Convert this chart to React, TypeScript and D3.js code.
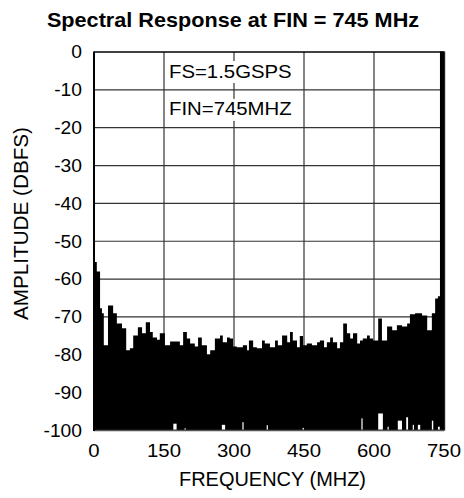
import React from "react";
import * as d3 from "d3";

// ---- data ----
const xTicks = [0, 150, 300, 450, 600, 750];
const yTicks = [0, -10, -20, -30, -40, -50, -60, -70, -80, -90, -100];
const legendLines = ["FS=1.5GSPS", "FIN=745MHZ"];

// noise-floor envelope: [start frequency MHz, peak dBFS] (step after)
const noiseEnvelope: [number, number][] = [
  [0, -55.5], [6, -58], [13, -67.7], [17, -69], [21, -77.5], [30, -67], [41, -69], [49, -71.7],
  [60, -73], [69, -78.8], [77, -78.3], [84, -74.9], [94, -72.7], [103, -74.3], [111, -71.4],
  [120, -74], [126, -75.4], [135, -76], [141, -74.3], [152, -77.5], [163, -76.5], [184, -77.5],
  [191, -74], [199, -75.7], [206, -77], [216, -77.8], [223, -75.4], [231, -77.5], [242, -80],
  [249, -78.8], [259, -75.7], [270, -74.9], [276, -76.7], [285, -75.4], [291, -75.7], [298, -77.8],
  [306, -78], [319, -77.5], [328, -78.8], [332, -76.2], [341, -78], [349, -78.3], [360, -76.2],
  [366, -77], [377, -78], [388, -76.2], [394, -77.5], [403, -74.9], [414, -76.7], [420, -74],
  [426, -76.2], [435, -78], [441, -75], [448, -77.5], [456, -77], [467, -77.5], [478, -76.7],
  [484, -76.2], [493, -78], [499, -76.7], [506, -75.4], [512, -76.7], [521, -78.3], [527, -76.7],
  [534, -71.7], [542, -74.3], [549, -75.7], [555, -74.3], [564, -77], [570, -76.2], [576, -75.7],
  [585, -74.9], [591, -75.7], [598, -76.2], [609, -70.4], [617, -76.2], [628, -72.5], [639, -73.5],
  [649, -72.2], [660, -72.5], [671, -71.7], [677, -69.3], [688, -69], [703, -69.6], [714, -73.5],
  [724, -69], [731, -65.1], [737, -64.5], [750, -64.5],
];

// places where the trace minimum stays above the floor: [from MHz, to MHz, lowest dBFS]
const troughs: [number, number, number][] = [
  [170, 177, -98.2], [194, 196, -99.4], [274, 281, -98.5], [318, 320, -97.8], [370, 372, -98.6],
  [447, 449, -99.3], [573, 575, -96.8], [609, 619, -95.5], [629, 631, -99], [651, 660, -97.4],
  [669, 673, -96.5], [683, 685, -98.5], [694, 699, -98.5], [724, 727, -97.4], [737, 741, -99],
];

const fundamentalMHz = 745;
const fundamentalDb = 0;

// ---- layout ----
const W = 464;
const H = 498;
const M = { left: 94, right: 444, top: 52, bottom: 430.5 };
const FONT = "Arial, 'Liberation Sans', Helvetica, sans-serif";
const SX = 1.1;

export default function App() {
  const x = d3.scaleLinear().domain([0, 750]).range([M.left, M.right]);
  const y = d3.scaleLinear().domain([0, -100]).range([M.top, M.bottom]);

  const area = d3
    .area<[number, number]>()
    .x((d) => x(d[0]))
    .y0(y(-100))
    .y1((d) => y(d[1]))
    .curve(d3.curveStepAfter);

  return (
    <svg
      width={W}
      height={H}
      style={{ position: "absolute", left: 0, top: 0, background: "#fff" }}
      fontFamily={FONT}
    >
      <rect width={W} height={H} fill="#fff" />
      {/* title */}
      <text
        transform={`translate(233,27) scale(1.11,1)`}
        textAnchor="middle"
        fontWeight="bold"
        fontSize={19.5}
      >
        Spectral Response at FIN = 745 MHz
      </text>

      {/* grid */}
      {xTicks.slice(1, -1).map((t) => (
        <line key={"gx" + t} x1={x(t)} x2={x(t)} y1={M.top} y2={M.bottom} stroke="#333" strokeWidth={1.2} />
      ))}
      {yTicks.slice(1, -1).map((t) => (
        <line key={"gy" + t} x1={M.left} x2={M.right} y1={y(t)} y2={y(t)} stroke="#333" strokeWidth={1.2} />
      ))}

      {/* legend */}
      {legendLines.map((s, i) => (
        <g key={s}>
          <rect x={x(150) + 2} y={y(-10 * i) + 9} width={132} height={22} fill="#fff" />
          <text
            transform={`translate(${x(150) + 5},${y(-10 * i) + 25.5}) scale(1.1,1)`}
            fontSize={18.5}
          >
            {s}
          </text>
        </g>
      ))}

      {/* spectrum */}
      <path d={area(noiseEnvelope) || ""} fill="#000" />
      {troughs.map(([a, b, v], i) => (
        <rect
          key={"t" + i}
          x={x(a)}
          width={Math.max(1.2, x(b) - x(a))}
          y={y(v)}
          height={y(-100) - y(v) - 0.8}
          fill="#fff"
        />
      ))}
      <line
        x1={x(fundamentalMHz) + 0.5}
        x2={x(fundamentalMHz) + 0.5}
        y1={y(-100)}
        y2={y(fundamentalDb) - 0.6}
        stroke="#000"
        strokeWidth={4.4}
      />

      {/* frame */}
      <line x1={M.left} x2={M.right} y1={M.top} y2={M.top} stroke="#000" strokeWidth={1.3} />
      <line x1={M.left} x2={M.right} y1={M.bottom} y2={M.bottom} stroke="#555" strokeWidth={1.4} />
      <line x1={M.left} x2={M.left} y1={M.top - 0.6} y2={M.bottom + 0.6} stroke="#000" strokeWidth={2} />
      <line x1={M.right + 0.6} x2={M.right + 0.6} y1={M.top - 0.6} y2={M.bottom} stroke="#222" strokeWidth={1.2} />

      {/* y tick labels */}
      {yTicks.map((t) => (
        <text
          key={"yl" + t}
          transform={`translate(82,${y(t) + 6.3}) scale(${SX},1)`}
          textAnchor="end"
          fontSize={17.5}
        >
          {t}
        </text>
      ))}
      {/* x tick labels */}
      {xTicks.map((t) => (
        <text
          key={"xl" + t}
          transform={`translate(${x(t)},457) scale(${SX},1)`}
          textAnchor="middle"
          fontSize={18.5}
        >
          {t}
        </text>
      ))}

      {/* axis titles */}
      <text
        x={272.5}
        y={486}
        textAnchor="middle"
        fontSize={19.5}
        textLength={187}
        lengthAdjust="spacingAndGlyphs"
      >
        FREQUENCY (MHZ)
      </text>
      <text
        transform={`translate(27.5,223.5) rotate(-90)`}
        textAnchor="middle"
        fontSize={20.5}
        textLength={193}
        lengthAdjust="spacingAndGlyphs"
      >
        AMPLITUDE (DBFS)
      </text>
    </svg>
  );
}
